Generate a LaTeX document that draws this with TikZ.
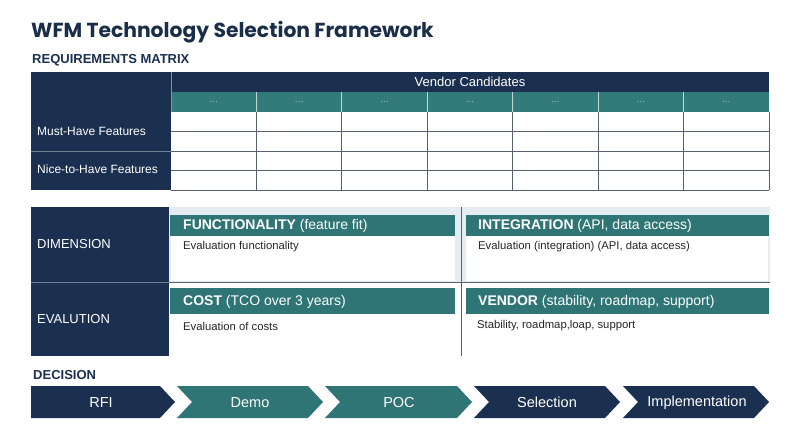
\documentclass[tikz,border=0pt]{standalone}
\usepackage{fontspec}
\setmainfont{Liberation Sans}
\newfontfamily\titlefont{Poppins}
\definecolor{navy}{RGB}{27,48,80}
\definecolor{tealc}{RGB}{47,117,117}
\definecolor{tealh}{RGB}{51,122,122}
\definecolor{gridc}{RGB}{88,98,110}
\definecolor{lightc}{RGB}{230,237,242}
\definecolor{titlec}{RGB}{26,46,74}
\definecolor{dotc}{RGB}{150,196,194}
\definecolor{sepc}{RGB}{190,216,216}
\tikzset{
  lbl/.style={anchor=west,inner sep=0pt,text=white,font=\fontsize{12}{14}\selectfont},
  barlbl/.style={anchor=west,inner sep=0pt,text=white,font=\fontsize{14}{16}\selectfont},
  desc/.style={anchor=west,inner sep=0pt,text=black!85,font=\fontsize{11.3}{13}\selectfont},
  sect/.style={anchor=west,inner sep=0pt,text=navy,font=\bfseries\fontsize{13}{15}\selectfont},
  chev/.style={inner sep=0pt,text=white,font=\fontsize{14.5}{16}\selectfont},
  gridline/.style={draw=gridc,line width=0.9pt},
}
\begin{document}
\begin{tikzpicture}[x=1pt,y=-1pt]
\useasboundingbox (0,0) rectangle (800,447);
\fill[white] (0,0) rectangle (800,447);
% title
\node[anchor=west,inner sep=0pt,text=titlec,font=\titlefont\bfseries\fontsize{20.3}{24}\selectfont] (title) at (31,32) {WFM Technology Selection Framework};
\node[sect] (reqm) at (32,60.5) {REQUIREMENTS MATRIX};
% matrix header
\fill[navy] (31,72) rectangle (769,92);
\fill[navy] (31,92) rectangle (171,112);
\fill[tealh] (171,92) rectangle (769,112);
\draw[sepc!60!navy,line width=0.6pt] (171,72) -- (171,112);
\node[inner sep=0pt,text=white,font=\fontsize{13}{15}\selectfont] (vc) at (470,82) {Vendor Candidates};
\foreach \i in {0,...,6}{
  \node[inner sep=0pt,text=dotc,font=\fontsize{10}{12}\selectfont] (dots\i) at ({171+85.43*(\i+0.5)},102) {...};
}
\foreach \i in {1,...,6}{
  \draw[sepc,line width=0.8pt] ({171+85.43*\i},92) -- ({171+85.43*\i},112);
}
% left labels
\fill[navy] (31,112) rectangle (171,190);
\draw[sepc!50!navy,line width=0.8pt] (31,151) -- (171,151);
\node[lbl] (must) at (37,131) {Must-Have Features};
\node[lbl] (nice) at (37,169.5) {Nice-to-Have Features};
% grid
\foreach \y in {131.5,151,170.5,190}{
  \draw[gridline] (171,\y) -- (769,\y);
}
\foreach \i in {1,...,7}{
  \draw[gridline] ({171+85.43*\i},112) -- ({171+85.43*\i},190);
}
% section 2
\fill[navy] (31,207) rectangle (169,356);
\draw[sepc!50!navy,line width=0.8pt] (31,282) -- (169,282);
\node[lbl,font=\fontsize{13}{15}\selectfont] (dim) at (37,244) {DIMENSION};
\node[lbl,font=\fontsize{13}{15}\selectfont] (evl) at (37,319.5) {EVALUTION};
\fill[lightc] (169,207) rectangle (770,282);
\fill[white] (171,236) rectangle (455,280.5);
\fill[white] (466,236) rectangle (768,280.5);
\draw[gridc,line width=0.8pt] (169,282) -- (770,282);
\draw[gridc,line width=0.8pt] (461,207) -- (461,356);
\fill[tealc] (170,215) rectangle (455,236);
\fill[tealc] (466,215) rectangle (769,236);
\fill[tealc] (170,288) rectangle (455,314);
\fill[tealc] (466,288) rectangle (769,314);
\node[barlbl] (fun) at (183,225.5) {\textbf{FUNCTIONALITY} (feature fit)};
\node[barlbl] (int) at (478,225.5) {\textbf{INTEGRATION} (API, data access)};
\node[barlbl] (cost) at (183,302) {\textbf{COST} (TCO over 3 years)};
\node[barlbl] (ven) at (478,302) {\textbf{VENDOR} (stability, roadmap, support)};
\node[desc] (dfun) at (183,247) {Evaluation functionality};
\node[desc] (dint) at (478,247) {Evaluation (integration) (API, data access)};
\node[desc] (dcost) at (183,326) {Evaluation of costs};
\node[desc] (dven) at (477,326) {Stability, roadmap,loap, support};
% decision
\node[sect] (dec) at (33,375) {DECISION};
\fill[navy] (31,386) -- (160,386) -- (175,402) -- (160,418) -- (31,418) -- cycle;
\fill[tealc] (177,386) -- (308,386) -- (323,402) -- (308,418) -- (177,418) -- (192,402) -- cycle;
\fill[tealc] (325,386) -- (457,386) -- (472,402) -- (457,418) -- (325,418) -- (340,402) -- cycle;
\fill[navy] (474,386) -- (605,386) -- (620,402) -- (605,418) -- (474,418) -- (489,402) -- cycle;
\fill[navy] (623,386) -- (754,386) -- (769,402) -- (754,418) -- (623,418) -- (638,402) -- cycle;
\node[chev] (rfi) at (101,402.5) {RFI};
\node[chev] (demo) at (250,402.5) {Demo};
\node[chev] (poc) at (399,402.5) {POC};
\node[chev] (sel) at (547,402.5) {Selection};
\node[chev] (impl) at (697,402.5) {Implementation};
\end{tikzpicture}
\end{document}
